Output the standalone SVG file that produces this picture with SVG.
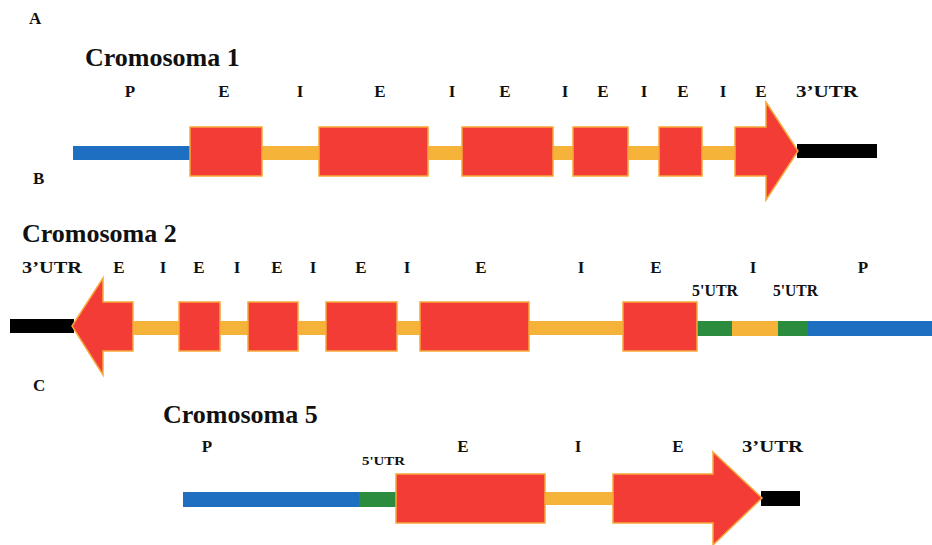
<svg xmlns="http://www.w3.org/2000/svg" width="932" height="545" viewBox="0 0 932 545">
<style>
text{font-family:"Liberation Serif","Times New Roman",serif;font-weight:bold;fill:#111}
.panel{font-size:17px}
.title{font-size:26px}
.lbl{font-size:17px;text-anchor:middle}
.utr{font-size:16px}
.utr5{font-size:13px}
.exon{fill:#F43C37;stroke:#F7A83A;stroke-width:1.5}
.intron{fill:#F6B33A}
.prom{fill:#1E6EC1}
.u5{fill:#2B8C3E}
.u3{fill:#000}
</style>
<rect width="932" height="545" fill="#fff"/>
<g id="panel-labels">
<text class="panel" x="29" y="24">A</text>
<text class="panel" x="33" y="184">B</text>
<text class="panel" x="33" y="391">C</text>
</g>

<!-- Chromosome 1 -->
<g id="chr1-labels">
<text class="title" x="85" y="66">Cromosoma 1</text>
<text class="lbl" x="130" y="97">P</text>
<text class="lbl" x="224" y="97">E</text>
<text class="lbl" x="300" y="97">I</text>
<text class="lbl" x="380" y="97">E</text>
<text class="lbl" x="452" y="97">I</text>
<text class="lbl" x="505" y="97">E</text>
<text class="lbl" x="565" y="97">I</text>
<text class="lbl" x="603" y="97">E</text>
<text class="lbl" x="644" y="97">I</text>
<text class="lbl" x="683" y="97">E</text>
<text class="lbl" x="723" y="97">I</text>
<text class="lbl" x="761" y="97">E</text>
<text class="utr" x="796" y="97" textLength="62" lengthAdjust="spacingAndGlyphs">3’UTR</text>
</g>
<g id="connectors">
<rect class="prom" x="73" y="146" width="117" height="14"/>
<rect class="intron" x="262" y="146" width="473" height="14"/>
<rect class="u3" x="797" y="144" width="80" height="14"/>

<rect class="u3" x="10" y="319" width="64" height="14"/>
<rect class="intron" x="133" y="321" width="564" height="14"/>
<rect class="u5" x="697" y="321" width="35" height="15"/>
<rect class="intron" x="732" y="321" width="46" height="15"/>
<rect class="u5" x="778" y="321" width="30" height="15"/>
<rect class="prom" x="808" y="321" width="124" height="15"/>

<rect class="prom" x="183" y="492" width="176" height="15"/>
<rect class="u5" x="359" y="492" width="37" height="15"/>
<rect class="intron" x="545" y="492" width="68" height="13"/>
<rect class="u3" x="761" y="491" width="39" height="15"/>
</g>
<g id="chr1-e1"><rect class="exon" x="190" y="127" width="72" height="49"/></g>
<g id="chr1-e2"><rect class="exon" x="319" y="127" width="109" height="49"/></g>
<g id="chr1-e3"><rect class="exon" x="462" y="127" width="91" height="49"/></g>
<g id="chr1-e4"><rect class="exon" x="573" y="127" width="55" height="49"/></g>
<g id="chr1-e5"><rect class="exon" x="659" y="127" width="43" height="49"/></g>
<g id="chr1-e6"><polygon class="exon" points="735,127 766,127 766,102 798,151 766,200 766,176 735,176"/></g>

<!-- Chromosome 2 -->
<g id="chr2-labels">
<text class="title" x="22" y="242">Cromosoma 2</text>
<text class="utr" x="22" y="273" textLength="60" lengthAdjust="spacingAndGlyphs">3’UTR</text>
<text class="lbl" x="119" y="273">E</text>
<text class="lbl" x="163" y="273">I</text>
<text class="lbl" x="199" y="273">E</text>
<text class="lbl" x="237" y="273">I</text>
<text class="lbl" x="277" y="273">E</text>
<text class="lbl" x="313" y="273">I</text>
<text class="lbl" x="361" y="273">E</text>
<text class="lbl" x="407" y="273">I</text>
<text class="lbl" x="481" y="273">E</text>
<text class="lbl" x="581" y="273">I</text>
<text class="lbl" x="656" y="273">E</text>
<text class="lbl" x="753" y="273">I</text>
<text class="lbl" x="863" y="273">P</text>
<text class="utr" x="692" y="296" textLength="46" lengthAdjust="spacingAndGlyphs">5'UTR</text>
<text class="utr" x="773" y="296" textLength="45" lengthAdjust="spacingAndGlyphs">5'UTR</text>
</g>
<g id="chr2-e1"><polygon class="exon" points="133,302 103,302 103,278 72,326 103,375 103,351 133,351"/></g>
<g id="chr2-e2"><rect class="exon" x="179" y="302" width="41" height="49"/></g>
<g id="chr2-e3"><rect class="exon" x="248" y="302" width="50" height="49"/></g>
<g id="chr2-e4"><rect class="exon" x="326" y="302" width="71" height="49"/></g>
<g id="chr2-e5"><rect class="exon" x="420" y="302" width="109" height="49"/></g>
<g id="chr2-e6"><rect class="exon" x="623" y="302" width="74" height="49"/></g>

<!-- Chromosome 5 -->
<g id="chr5-labels">
<text class="title" x="163" y="423">Cromosoma 5</text>
<text class="lbl" x="207" y="452">P</text>
<text class="utr5" x="362" y="465" textLength="43" lengthAdjust="spacingAndGlyphs">5'UTR</text>
<text class="lbl" x="463" y="452">E</text>
<text class="lbl" x="578" y="452">I</text>
<text class="lbl" x="678" y="452">E</text>
<text class="utr" x="742" y="452" textLength="61" lengthAdjust="spacingAndGlyphs">3’UTR</text>
</g>
<g id="chr5-e1"><rect class="exon" x="396" y="474" width="149" height="49"/></g>
<g id="chr5-e2"><polygon class="exon" points="613,474 713,474 713,452 762,498 713,545 713,523 613,523"/></g>
</svg>
